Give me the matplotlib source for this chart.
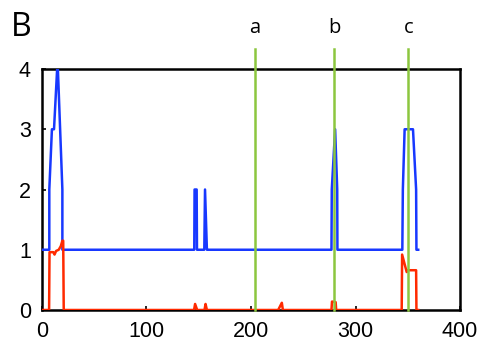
import matplotlib
matplotlib.use("Agg")
import matplotlib.pyplot as plt

# Blue series (piecewise points)
blue_x = [0, 7, 7, 9.5, 11.5, 14.5, 15.2, 19.5, 19.5, 145.7, 146, 148, 148.3, 155.3, 156, 157.8, 158.2,
          277, 277.3, 280.5, 282.5, 282.7, 344.8, 345.3, 347, 355, 358, 358.3, 360]
blue_y = [1, 1, 2, 3, 3, 4, 4, 2, 1, 1, 2, 2, 1, 1, 2, 1, 1,
          1, 2, 3, 2, 1, 1, 2, 3, 3, 2, 1, 1]

# Red series
red_x = [0, 6.8, 7.2, 10.8, 12, 13.5, 16, 18, 19.5, 20.3, 20.8, 145.5, 146.5, 148.5, 155.5, 156.5, 157.8,
         226, 229.5, 230.5, 277, 277.5, 281, 281.5, 344.2, 344.6, 349, 350.5, 358, 358.3, 360]
red_y = [0, 0, 0.96, 0.96, 0.92, 0.98, 1.0, 1.06, 1.15, 1.15, 0, 0, 0.1, 0, 0, 0.1, 0,
         0, 0.12, 0, 0, 0.14, 0.13, 0, 0, 0.92, 0.63, 0.66, 0.66, 0, 0]

# Event markers
event_x = [204, 279.5, 350.5]
event_labels = ["a", "b", "c"]

x_ticks = [0, 100, 200, 300, 400]
y_ticks = [0, 1, 2, 3, 4]

fig = plt.figure(figsize=(4.9, 3.6), dpi=100)
ax = fig.add_axes([0.0857, 0.1389, 0.8531, 0.6694])

ax.plot(blue_x, blue_y, color="#1838ff", lw=1.8, zorder=3)
ax.plot(red_x, red_y, color="#ff2a00", lw=1.8, zorder=3)

for xe, lab in zip(event_x, event_labels):
    ax.plot([xe, xe], [0, 4.33], color="#8cc63f", lw=1.8, clip_on=False, zorder=4)
    ax.text(xe, 4.68, lab, ha="center", va="center", fontsize=14.5, family="Open Sans")

ax.set_xlim(0, 400)
ax.set_ylim(0, 4)
ax.set_xticks(x_ticks)
ax.set_yticks(y_ticks)
ax.tick_params(direction="in", length=3, width=1.2, labelsize=15.5, pad=8)
for lbl in ax.get_xticklabels() + ax.get_yticklabels():
    lbl.set_family("Liberation Sans")
for s in ax.spines.values():
    s.set_linewidth(1.8)

fig.text(0.022, 0.925, "B", fontsize=23, family="Open Sans", ha="left", va="center")

fig.savefig("out.png", dpi=100)
